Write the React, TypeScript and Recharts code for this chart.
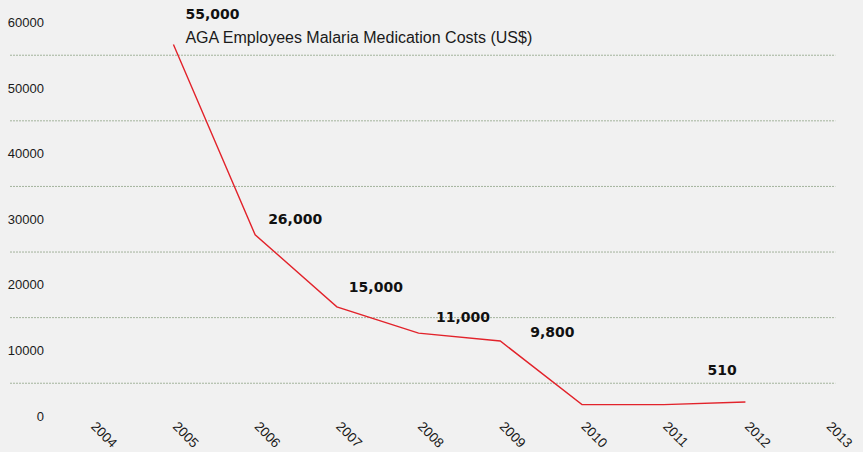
import React from 'react';
import { LineChart, Line, XAxis, YAxis, CartesianGrid, LabelList } from 'recharts';

const years = [2005, 2006, 2007, 2008, 2009, 2010, 2011, 2012];
const costs = [55000, 26000, 15000, 11000, 9800, 100, 100, 510];
const valueLabels = ['55,000', '26,000', '15,000', '11,000', '9,800', '', '', '510'];
const seriesName = 'AGA Employees Malaria Medication Costs (US$)';
const xTicks = [2004, 2005, 2006, 2007, 2008, 2009, 2010, 2011, 2012, 2013];
const yTicks = [0, 10000, 20000, 30000, 40000, 50000, 60000];
const gridValues = [5000, 15000, 25000, 35000, 45000, 55000];

// label placement relative to each point (style only)
const labelOffsets: [number, number][] = [
  [12, -31], [13, -16], [12, -20], [17.5, -16], [30, -9], [0, 0], [0, 0], [-38, -32],
];

const data = years.map((year, i) => ({ year, cost: costs[i], label: valueLabels[i] }));

const FONT = '"Liberation Sans", Arial, Helvetica, sans-serif';
const BOLD_FONT = '"DejaVu Sans", "Liberation Sans", Arial, sans-serif';

const YTick = (props: any) => {
  const { x, y, payload } = props;
  return (
    <text x={x + 34} y={y} dy="0.355em" textAnchor="end" fontSize={13} fill="#1a1a1a" fontFamily={FONT}>
      {payload.value}
    </text>
  );
};

const XTick = (props: any) => {
  const { x, y, payload } = props;
  const ax = x - 1.5;
  const ay = y + 4.7;
  return (
    <text
      x={ax}
      y={ay}
      textAnchor="start"
      fontSize={13.5}
      fill="#1a1a1a"
      fontFamily={FONT}
      transform={`rotate(45, ${ax}, ${ay})`}
    >
      {payload.value}
    </text>
  );
};

const ValueLabel = (props: any) => {
  const { x, y, value } = props;
  if (!value) return null;
  const idx = valueLabels.indexOf(String(value));
  const [dx, dy] = labelOffsets[idx] || [0, 0];
  const lx = x + dx;
  const ly = y + dy + 5.2;
  return (
    <g>
      <text x={lx} y={ly} fontSize={14} fontWeight="bold" fill="#111" fontFamily={BOLD_FONT}>
        {value}
      </text>
      {idx === 0 && (
        <text x={lx} y={ly + 24.7} fontSize={16} fill="#1a1a1a" fontFamily={FONT}>
          {seriesName}
        </text>
      )}
    </g>
  );
};

export default function App() {
  return (
    <div style={{ position: 'absolute', left: 0, top: 0, width: 863, height: 452, background: '#f1f1f1' }}>
      <LineChart width={863} height={452} data={data} margin={{ top: 9.3, right: 27.7, left: 0, bottom: 0.4 }}>
        <CartesianGrid
          vertical={false}
          yAxisId="lbl"
          horizontalValues={gridValues}
          stroke="#a3b39c"
          strokeDasharray="2 1"
        />
        <XAxis
          dataKey="year"
          type="number"
          domain={[2003, 2013.1]}
          ticks={xTicks}
          interval={0}
          allowDataOverflow
          axisLine={false}
          tickLine={false}
          tickSize={0}
          tickMargin={0}
          height={29}
          tick={<XTick />}
        />
        <YAxis
          yAxisId="lbl"
          type="number"
          domain={[-1000, 62000]}
          ticks={yTicks}
          interval={0}
          allowDataOverflow
          axisLine={false}
          tickLine={false}
          tickSize={0}
          tickMargin={0}
          width={10}
          tick={<YTick />}
        />
        <YAxis yAxisId="val" type="number" domain={[-2640, 60360]} allowDataOverflow hide />
        <Line
          yAxisId="val"
          type="linear"
          dataKey="cost"
          stroke="#e2232b"
          strokeWidth={1.4}
          dot={false}
          activeDot={false}
          isAnimationActive={false}
        >
          <LabelList dataKey="label" content={<ValueLabel />} />
        </Line>
      </LineChart>
    </div>
  );
}
